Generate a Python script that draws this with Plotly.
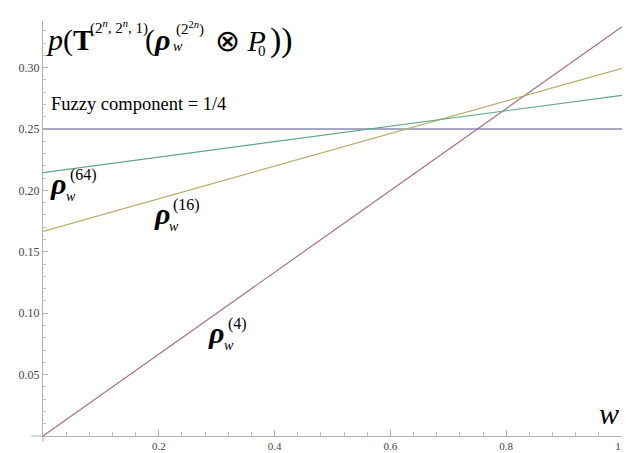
import plotly.graph_objects as go

# data
w = [0.0, 1.0]
rho4 = [0.0, 0.3333]
rho16 = [0.1667, 0.2995]
rho64 = [0.2145, 0.2775]
fuzzy = [0.25, 0.25]

x_ticks = [0.2, 0.4, 0.6, 0.8, 1.0]
y_ticks = [0.05, 0.10, 0.15, 0.20, 0.25, 0.30]

W, H = 630, 453
X0, X1 = 35, 621      # pixel of w=0 and w=1
Y0, YT = 439, 13      # pixel of y=0 and plot top
YMAX = 0.338

SERIF = "Liberation Serif"
AXIS = "#b0b0b0"


def px(x):
    return (x - X0) / (X1 - X0)


def py(y):
    return (Y0 - y) / (Y0 - YT)


fig = go.Figure()
fig.add_trace(go.Scatter(x=w, y=fuzzy, mode="lines",
                         line=dict(color="#a7a7c7", width=2)))
fig.add_trace(go.Scatter(x=w, y=rho4, mode="lines",
                         line=dict(color="#a4708c", width=1.2)))
fig.add_trace(go.Scatter(x=w, y=rho16, mode="lines",
                         line=dict(color="#b8ae6a", width=1.2)))
fig.add_trace(go.Scatter(x=w, y=rho64, mode="lines",
                         line=dict(color="#5fa684", width=1.2)))

ann = []


def txt(x, y, s, size, anchor="left"):
    ann.append(dict(x=px(x), y=py(y), xref="paper", yref="paper",
                    text=s, showarrow=False, xanchor=anchor, yanchor="middle",
                    font=dict(family=SERIF, size=size, color="black")))


# title  p(T^(2^n,2^n,1)(rho_w^(2^2n) (x) P_0))
txt(36, 33, "<i>p</i>(<b>T</b>", 30)
txt(81, 20, "(2<sup><i>n</i></sup>, 2<sup><i>n</i></sup>, 1)", 15)
txt(136, 33, "(<b><i>ρ</i></b>", 30)
txt(168, 21, "(2<sup>2<i>n</i></sup>)", 15)
txt(165, 39, "<i>w</i>", 14)
txt(207, 33, "⊗ <i>P</i>", 30)
txt(251, 44, "0", 15)
txt(263, 33, "))", 34)

txt(41, 98, "Fuzzy component = 1/4", 18.5)


def rho_label(x, y, sup):
    txt(x, y, "<b><i>ρ</i></b>", 30)
    txt(x + 20, y - 9, "(%s)" % sup, 16)
    txt(x + 16, y + 13, "<i>w</i>", 14)


rho_label(40, 180, "64")
rho_label(145, 211, "16")
rho_label(200, 333, "4")

txt(608, 416, "<i>w</i>", 30, anchor="center")

fig.update_layout(
    width=W, height=H,
    margin=dict(l=X0, r=W - X1, t=YT, b=H - Y0),
    paper_bgcolor="white", plot_bgcolor="white",
    showlegend=False,
    annotations=ann,
    shapes=[dict(type="line", xref="paper", yref="paper",
                 x0=-0.02, x1=0, y0=0, y1=0,
                 line=dict(color=AXIS, width=1)),
            dict(type="line", xref="paper", yref="paper",
                 x0=0, x1=0, y0=-0.014, y1=0,
                 line=dict(color=AXIS, width=1))],
)
fig.update_xaxes(range=[0, 1], showgrid=False, zeroline=False,
                 showline=True, linecolor=AXIS, linewidth=1,
                 tickmode="array", tickvals=x_ticks, tickformat=".1f",
                 ticks="inside", ticklen=6, tickcolor=AXIS,
                 ticklabeloverflow="allow",
                 minor=dict(dtick=0.04, tick0=0, ticks="inside", ticklen=4,
                            tickcolor="#c0c0c0"),
                 tickfont=dict(family=SERIF, size=11, color="#444444"))
fig.update_yaxes(range=[0, YMAX], showgrid=False, zeroline=False,
                 showline=True, linecolor=AXIS, linewidth=1,
                 tickmode="array", tickvals=y_ticks, tickformat=".2f",
                 ticks="inside", ticklen=5, tickcolor=AXIS,
                 ticklabeloverflow="allow",
                 minor=dict(dtick=0.01, tick0=0, ticks="inside", ticklen=3,
                            tickcolor="#c0c0c0"),
                 tickfont=dict(family=SERIF, size=12, color="#444444"))

fig.write_html("out.html", config={"displayModeBar": False})
